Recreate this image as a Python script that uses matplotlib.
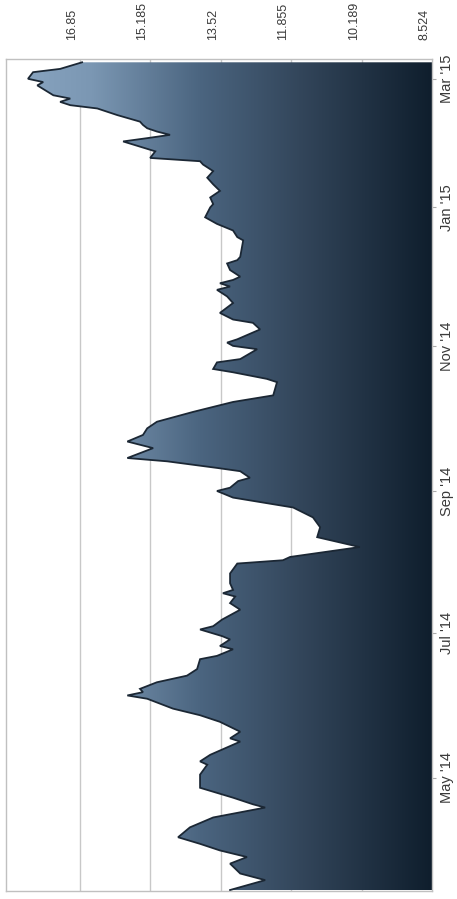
"""
One year of daily closes, drawn as a shaded area chart turned on its side.
"""
import matplotlib
matplotlib.use('Agg')
import matplotlib.pyplot as plt
import matplotlib.transforms as mtransforms
from matplotlib.colors import LinearSegmentedColormap
import numpy as np

# trading-day index (0 = first day shown) and closing value
day = [0, 3, 5, 8, 10, 12, 14, 16, 19, 22, 25, 26, 28, 31, 35, 38, 39, 41, 45, 46,
       48, 51, 53, 55, 58, 59, 60, 61, 63, 65, 67, 70, 71, 73, 74, 76, 77, 79, 80, 82,
       85, 87, 89, 90, 91, 93, 96, 99, 100, 101, 104, 107, 110, 113, 116, 118, 119, 121, 122, 124,
       125, 127, 128, 130, 131, 134, 136, 138, 140, 142, 145, 148, 150, 154, 155, 157, 158, 160, 161, 164,
       165, 166, 167, 170, 172, 173, 175, 178, 180, 182, 183, 184, 185, 186, 188, 190, 191, 192, 197, 198,
       200, 202, 204, 207, 208, 210, 212, 214, 216, 218, 220, 221, 222, 224, 227, 228, 229, 230, 231, 232,
       233, 235, 237, 238, 239, 240, 241, 244, 245, 246, 248, 249, 251]
price = [13.30, 12.47, 13.06, 13.30, 12.90, 13.54, 14.01, 14.53, 14.25, 13.70, 12.47, 12.76, 13.23, 14.01, 14.01, 13.84, 14.01, 13.77, 13.06, 13.30,
         13.06, 13.54, 14.01, 14.65, 15.26, 15.73, 15.36, 15.43, 15.03, 14.32, 14.08, 14.01, 13.61, 13.23, 13.54, 13.30, 13.49, 14.01, 13.70, 13.49,
         13.06, 13.30, 13.18, 13.47, 13.23, 13.30, 13.30, 13.13, 12.05, 11.88, 10.23, 11.24, 11.17, 11.34, 11.81, 12.76, 13.23, 13.61, 13.30, 13.11,
         12.83, 13.06, 13.61, 14.79, 15.73, 15.12, 15.73, 15.36, 15.26, 15.03, 14.17, 13.23, 12.28, 12.19, 12.43, 13.23, 13.70, 13.61, 13.06, 12.66,
         13.23, 13.37, 13.13, 12.59, 12.76, 13.23, 13.54, 13.23, 13.37, 13.61, 13.30, 13.54, 13.23, 13.06, 13.30, 13.37, 13.13, 13.06, 12.99, 13.13,
         13.23, 13.61, 13.89, 13.77, 13.70, 13.77, 13.54, 13.70, 13.84, 13.70, 13.94, 14.01, 15.19, 15.07, 15.83, 15.26, 14.72, 15.03, 15.26, 15.36,
         15.43, 15.97, 16.44, 17.08, 17.32, 17.08, 17.48, 17.86, 17.72, 18.08, 17.96, 17.32, 16.80]

value_ticks = [16.85, 15.185, 13.52, 11.855, 10.189, 8.524]
value_labels = ['16.85', '15.185', '13.52', '11.855', '10.189', '8.524']

date_ticks = [34, 78, 121, 165, 207, 246]
date_labels = ["May '14", "Jul '14", "Sep '14", "Nov '14", "Jan '15", "Mar '15"]

plt.rcParams['font.family'] = ['Liberation Sans', 'DejaVu Sans']

fig = plt.figure(figsize=(4.57, 8.99), dpi=100)
ax = fig.add_axes([6 / 457, 8 / 899, 426 / 457, 832 / 899])

v_max = 18.6
v_min = value_ticks[-1]
d_min, d_max = -0.3, 252

# vertical grid lines (behind the area)
for v in value_ticks[:-1]:
    ax.axvline(v, color='#c8c8c8', lw=1, zorder=0)

# gradient area, clipped to the filled shape
cmap = LinearSegmentedColormap.from_list(
    'steel', [(0.0, '#8ba7c3'), (0.2, '#7b97b3'), (0.455, '#4b6580'),
              (0.69, '#33465b'), (1.0, '#0f1e2d')])
grad = np.linspace(0, 1, 512).reshape(1, -1)
im = ax.imshow(grad, extent=[v_max, v_min, d_min, d_max], aspect='auto',
               cmap=cmap, zorder=1, interpolation='bilinear')
poly = ax.fill_betweenx(day, price, v_min, facecolor='none', edgecolor='none')
im.set_clip_path(poly.get_paths()[0], transform=ax.transData)
ax.plot(price, day, color='#1b2734', lw=1.3, zorder=3, solid_joinstyle='miter')

ax.set_xlim(v_max, v_min)
ax.set_ylim(d_min, d_max)

# value labels above the frame, turned on their side
for v, lab in zip(value_ticks, value_labels):
    tr = mtransforms.offset_copy(ax.get_xaxis_transform(), fig=fig, x=-8, y=19, units='dots')
    ax.text(v, 1.0, lab, transform=tr, rotation=90, ha='center', va='bottom',
            fontsize=9, color='#3a3a3a')
ax.set_xticks([])

# date labels on the right
ax.yaxis.tick_right()
ax.set_yticks(date_ticks)
ax.set_yticklabels(date_labels, rotation=90, va='center', fontsize=10.5, color='#3a3a3a')
ax.tick_params(axis='y', length=3, width=0.8, color='#aaaaaa', pad=3)

for side in ['top', 'left', 'bottom', 'right']:
    ax.spines[side].set_color('#c0c0c0')
    ax.spines[side].set_linewidth(1)

plt.savefig('out.png', dpi=100, facecolor='w')
